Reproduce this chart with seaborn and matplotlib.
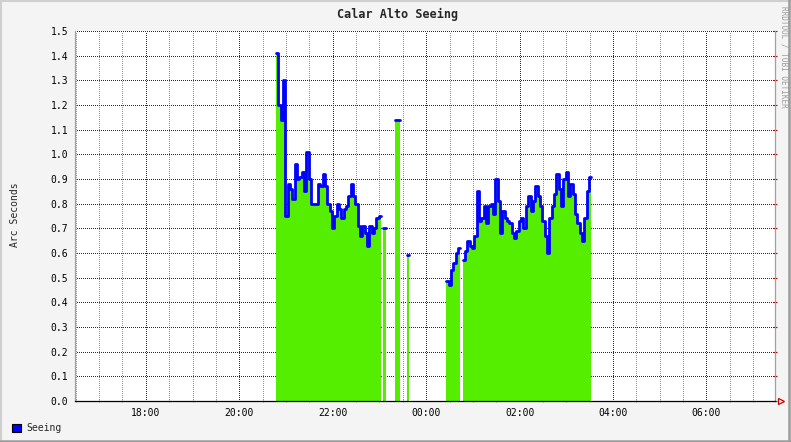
import numpy as np
import pandas as pd
import matplotlib
matplotlib.use("Agg")
import matplotlib.pyplot as plt
import matplotlib.dates as mdates
from matplotlib.patches import Patch
from matplotlib.lines import Line2D
import seaborn as sns

# Seeing (arc seconds), one value every 3 minutes from 20:47, nan = no data
start = "2010-03-01 20:47"
step_min = 3
nan = np.nan
seeing = [
    1.41, 1.20, 1.14, 1.30, 0.75, 0.88, 0.86, 0.82, 0.96, 0.90,
    0.91, 0.93, 0.85, 1.01, 0.90, 0.80, 0.80, 0.80, 0.88, 0.87,
    0.92, 0.87, 0.80, 0.77, 0.70, 0.75, 0.80, 0.78, 0.74, 0.78,
    0.79, 0.83, 0.88, 0.83, 0.80, 0.71, 0.67, 0.71, 0.68, 0.63,
    0.71, 0.68, 0.70, 0.74, 0.75,
    nan, 0.70, nan, nan, nan, nan, 1.14, 1.14, nan, nan, nan, 0.59,
    nan, nan, nan, nan, nan, nan, nan, nan, nan, nan, nan, nan, nan, nan, nan, nan,
    0.485, 0.47, 0.53, 0.56, 0.60, 0.62,
    nan,
    0.57, 0.61, 0.65, 0.63, 0.62, 0.67, 0.85, 0.73, 0.74, 0.79,
    0.72, 0.79, 0.80, 0.76, 0.90, 0.81, 0.68, 0.77, 0.74, 0.73,
    0.72, 0.68, 0.66, 0.69, 0.73,
    0.74, 0.70, 0.79, 0.83, 0.77, 0.81, 0.87, 0.83, 0.79, 0.73,
    0.67, 0.60, 0.74, 0.79, 0.84, 0.92, 0.86, 0.79, 0.90, 0.93,
    0.83, 0.88, 0.84, 0.76, 0.72, 0.68, 0.65, 0.74, 0.85, 0.91,
]

# axis range and ticks
day = "2010-03-01"
x_range_hours = [16 + 29 / 60, 31 + 28 / 60]
x_tick_hours = [18, 20, 22, 24, 26, 28, 30]
x_tick_labels = ["18:00", "20:00", "22:00", "00:00", "02:00", "04:00", "06:00"]
y_ticks = [i / 10 for i in range(16)]
y_tick_labels = ["%.1f" % v for v in y_ticks]

GREEN = "#55ee00"
BLUE = "#0000ff"
RED_GRID = "#8e0000"
GRAY_GRID = "#969696"

sns.set_style("white")
plt.rcParams["font.family"] = ["DejaVu Sans Mono"]

# build the step segments
times = pd.date_range(start, periods=len(seeing), freq=f"{step_min}min")
df = pd.DataFrame({"time": mdates.date2num(times), "seeing": seeing})
df["seg"] = df["seeing"].isna().cumsum()
df = df.dropna()
step = step_min / (24 * 60)
parts = []
for seg, g in df.groupby("seg"):
    end = g.iloc[[-1]].copy()
    end["time"] = end["time"] + step
    parts.append(pd.concat([g, end]))
steps = pd.concat(parts, ignore_index=True)

fig = plt.figure(figsize=(7.91, 4.42), dpi=100)
fig.patch.set_facecolor("#f4f4f4")
ax = fig.add_axes([75 / 791, 41 / 442, 700 / 791, 370 / 442])
ax.set_facecolor("white")

for seg, g in steps.groupby("seg"):
    ax.fill_between(g["time"], g["seeing"], step="post", color=GREEN, lw=0)
sns.lineplot(data=steps, x="time", y="seeing", units="seg", estimator=None,
             sort=False, drawstyle="steps-post", color=BLUE, lw=2.0,
             legend=False, ax=ax)

d0 = mdates.date2num(pd.Timestamp(day))
ax.set_xlim(d0 + x_range_hours[0] / 24, d0 + x_range_hours[1] / 24)
ax.set_ylim(0, 1.5)
ax.set_xticks([d0 + h / 24 for h in x_tick_hours])
ax.set_xticklabels(x_tick_labels)
ax.xaxis.set_minor_locator(mdates.MinuteLocator(byminute=[0, 30]))
ax.set_yticks(y_ticks)
ax.set_yticklabels(y_tick_labels)
ax.set_xlabel("")
ax.set_ylabel("")

dot = (0, (1, 1.6))
ax.grid(which="minor", axis="x", color=GRAY_GRID, ls=dot, lw=0.72, antialiased=False)
ax.grid(which="major", axis="x", color=RED_GRID, ls=dot, lw=0.72, antialiased=False)
ax.grid(which="major", axis="y", color=RED_GRID, ls=dot, lw=0.72, antialiased=False)
ax.set_axisbelow(True)

ax.tick_params(axis="both", which="major", labelsize=7, colors="#b00000",
               labelcolor="black", direction="inout", length=3.5, width=0.8)
ax.tick_params(axis="y", right=True, pad=3)
ax.tick_params(axis="x", pad=3)
ax.tick_params(axis="x", which="minor", length=2, colors="#8c8c8c",
               direction="inout", bottom=True)

ax.spines["top"].set_visible(False)
ax.spines["left"].set_color("#a0a0a0")
ax.spines["right"].set_color("#a0a0a0")
ax.spines["bottom"].set_color("black")
for s in ax.spines.values():
    s.set_linewidth(0.9)

# arrow at end of x axis
ax.plot([1.009], [0], marker=">", ms=5, mfc="none", mec="#cc0000", mew=0.9,
        transform=ax.transAxes, clip_on=False)

fig.text(0.502, 1 - 14 / 442, "Calar Alto Seeing", ha="center", va="center",
         fontsize=8.5, fontweight="bold")
fig.text(15 / 791, 1 - 215 / 442, "Arc Seconds", rotation=90, ha="center",
         va="center", fontsize=7)
fig.text(784 / 791, 1 - 6 / 442, "RRDTOOL / TOBI OETIKER", rotation=270,
         ha="center", va="top", fontsize=5.5, color="#9a9a9a")

# legend
fig.legend(handles=[Patch(facecolor=BLUE, edgecolor="black", lw=0.8, label="Seeing")],
           loc="center left", bbox_to_anchor=(8 / 791, 1 - 428 / 442),
           frameon=False, fontsize=7, handlelength=0.9, handleheight=0.9,
           handletextpad=0.6, borderaxespad=0)

# image border
fig.add_artist(Line2D([0, 1], [0.998, 0.998], color="#cfcfcf", lw=1.5))
fig.add_artist(Line2D([0.001, 0.001], [0, 1], color="#cfcfcf", lw=1.5))
fig.add_artist(Line2D([0, 1], [0.002, 0.002], color="#9c9c9c", lw=1.8))
fig.add_artist(Line2D([0.998, 0.998], [0, 1], color="#9c9c9c", lw=1.8))

fig.savefig("out.png", dpi=100, facecolor=fig.get_facecolor())
